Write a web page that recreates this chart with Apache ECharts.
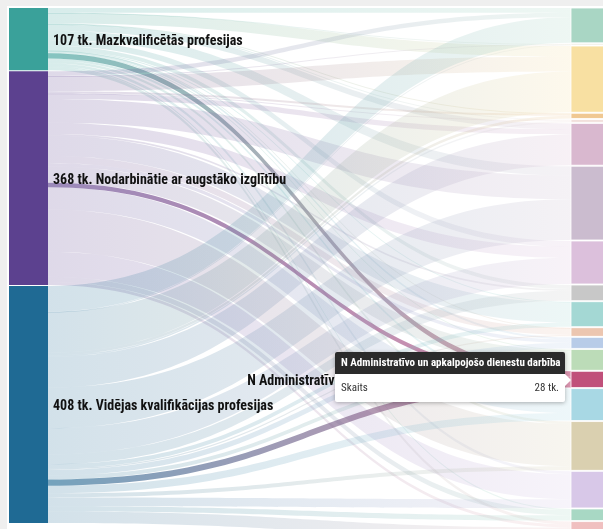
<!DOCTYPE html>
<html>
<head>
<meta charset="utf-8">
<script src="https://cdn.jsdelivr.net/npm/echarts@6/dist/echarts.min.js"></script>
<style>
html,body{margin:0;padding:0;background:#efefef;overflow:hidden;width:603px;height:529px;}
#c{position:absolute;left:7px;top:6px;width:640px;height:560px;background:#fff;}
</style>
</head>
<body>
<div id="c"></div>
<script>
const sources = ['Mazkvalificētās profesijas', 'Nodarbinātie ar augstāko izglītību', 'Vidējas kvalifikācijas profesijas'];
const sourceColors = ['#3aa19a', '#5c418f', '#1f6a94'];
const sectors = [
  'A Lauksaimniecība, mežsaimniecība un zivsaimniecība',
  'B Ieguves rūpniecība un karjeru izstrāde',
  'C Apstrādes rūpniecība',
  'D Elektroenerģija, gāzes apgāde, siltumapgāde un gaisa kondicionēšana',
  'E Ūdens apgāde; notekūdeņu, atkritumu apsaimniekošana un sanācija',
  'F Būvniecība',
  'G Vairumtirdzniecība un mazumtirdzniecība',
  'H Transports un uzglabāšana',
  'I Izmitināšana un ēdināšanas pakalpojumi',
  'J Informācijas un komunikācijas pakalpojumi',
  'K Finanšu un apdrošināšanas darbības',
  'L Operācijas ar nekustamo īpašumu',
  'M Profesionālie, zinātniskie un tehniskie pakalpojumi',
  'N Administratīvo un apkalpojošo dienestu darbība',
  'O Valsts pārvalde un aizsardzība',
  'P Izglītība',
  'Q Veselība un sociālā aprūpe',
  'R Māksla, izklaide un atpūta',
  'S Citi pakalpojumi'
];
const sectorColors = ['#a9d6c4', '#e8e4d4', '#f8e0a2', '#f0c892', '#f2e0dc', '#d9b8cf', '#cbbccf', '#dcc0dc', '#c8c8c8', '#a4d8d4', '#ecc6b0', '#b8cce8', '#bcdcb8', '#c0507a', '#a8d8e4', '#dad0b0', '#d8c8e8', '#a8d8c4', '#f0c0c0'];
// thousands of employed, per sector, by source group
const fromLow  = [8, 0.5, 18, 1, 1.5, 10, 16, 10, 7, 1, 0.5, 3.5, 1, 9, 4, 4, 5, 2, 5];
const fromHigh = [8, 0.5, 26, 3.5, 1, 9, 41, 19, 3, 35, 12, 6, 28, 8, 38, 73, 43, 9, 5];
const fromMid  = [44, 1, 70, 4.5, 2.5, 53, 70, 45, 17, 7, 2.5, 9.5, 7, 11, 13, 7, 15, 9, 20];
const highlighted = 'N Administratīvo un apkalpojošo dienestu darbība';
const unit = ' tk.';
const valueLabel = 'Skaits';

const FONT = "'Roboto Condensed','Liberation Sans Narrow','DejaVu Sans Condensed',Roboto,sans-serif";
const flows = [fromLow, fromHigh, fromMid];
const sourceTotals = flows.map(a => a.reduce((s, v) => s + v, 0));
const sectorTotals = sectors.map((_, i) => flows.reduce((s, a) => s + a[i], 0));

const nodes = [];
sources.forEach((name, i) => nodes.push({
  name, value: sourceTotals[i],
  itemStyle: { color: sourceColors[i] },
  label: { show: true, position: 'right', offset: [0, 2], formatter: p => p.value + unit + ' ' + p.name }
}));
sectors.forEach((name, i) => nodes.push({
  name, value: sectorTotals[i],
  itemStyle: { color: sectorColors[i], borderColor: '#fff', borderWidth: 0.8 },
  label: name === highlighted ? { show: true, position: 'left', distance: 44, offset: [0, 2], formatter: '{b}' } : { show: false }
}));
const links = [];
sources.forEach((s, si) => sectors.forEach((t, ti) => {
  const hl = t === highlighted;
  links.push({ source: s, target: t, value: flows[si][ti],
    lineStyle: { opacity: hl ? 0.62 : 0.2 } });
}));

const chart = echarts.init(document.getElementById('c'), null, { renderer: 'canvas' });
chart.setOption({
  backgroundColor: '#fff',
  animation: false,
  tooltip: {
    trigger: 'item',
    alwaysShowContent: true,
    triggerOn: 'none',
    padding: 0,
    borderWidth: 0,
    backgroundColor: '#fff',
    position: [328, 346],
    extraCssText: 'box-shadow:0 1px 4px rgba(0,0,0,0.3);border-radius:2px;width:230px;',
    formatter: p => {
      return '<div style="position:relative;font-family:' + FONT.replace(/'/g, '') + ';">' +
        '<div style="background:#2b2b2b;color:#fff;font-weight:bold;font-size:11px;height:22px;line-height:22px;padding:0 6px;border-radius:2px 2px 0 0;">' + p.name + '</div>' +
        '<div style="display:flex;justify-content:space-between;height:28px;line-height:28px;padding:0 6px;font-size:11px;color:#333;"><span>' + valueLabel + '</span><span>' + p.value + unit + '</span></div>' +
        '<div style="position:absolute;right:-6px;top:22px;width:0;height:0;border-left:6px solid #fff;border-top:6px solid transparent;border-bottom:6px solid transparent;"></div>' +
        '</div>';
    }
  },
  series: [{
    type: 'sankey',
    left: 2, top: 2, width: 601, height: 531,
    nodeWidth: 39,
    nodeGap: 1,
    layoutIterations: 0,
    draggable: false,
    emphasis: { disabled: true },
    label: { color: '#111', fontWeight: 'bold', fontSize: 14, fontFamily: FONT },
    lineStyle: { color: 'gradient', curveness: 0.5 },
    data: nodes,
    links: links
  }]
});
const idx = nodes.findIndex(n => n.name === highlighted);
chart.dispatchAction({ type: 'showTip', seriesIndex: 0, dataIndex: idx, dataType: 'node' });
</script>
</body>
</html>
